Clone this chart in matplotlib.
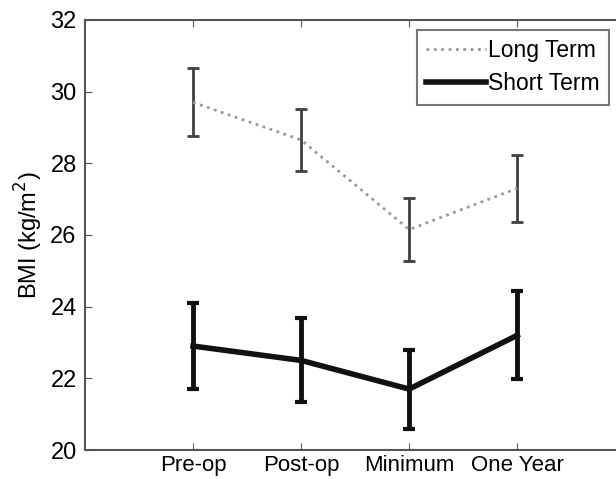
import numpy as np
import matplotlib.pyplot as plt
from matplotlib.lines import Line2D

plt.rcParams['font.family'] = ['Liberation Sans', 'DejaVu Sans']

# 数据
categories = ["Pre-op", "Post-op", "Minimum", "One Year"]
long_mean = [29.7, 28.65, 26.15, 27.3]
long_err = [0.95, 0.87, 0.88, 0.93]
short_mean = [22.9, 22.5, 21.7, 23.2]
short_err = [1.2, 1.17, 1.1, 1.23]

x = np.arange(1, len(categories) + 1)

fig = plt.figure(figsize=(6.16, 4.79), dpi=100)
ax = fig.add_axes([0.138, 0.0605, 0.877, 0.898])

# 长期：灰色点线 + 细误差棒
ax.errorbar(x, long_mean, yerr=long_err, color='#9a9a9a', linestyle=':', linewidth=2,
            ecolor='#404040', elinewidth=2, capsize=4, capthick=2)
# 短期：黑色粗实线
ax.errorbar(x, short_mean, yerr=short_err, color='#111111', linestyle='-', linewidth=4,
            ecolor='#111111', elinewidth=3.5, capsize=4, capthick=3)

ax.set_xlim(0, 5)
ax.set_ylim(20, 32)
ax.set_xticks(x)
ax.set_xticklabels(categories, fontsize=16)
ax.set_yticks(np.arange(20, 33, 2))
ax.tick_params(axis='y', labelsize=17, pad=6)
ax.tick_params(direction='in', length=5, top=True, right=False, color='#555555')
ax.set_ylabel('BMI (kg/m$^2$)', fontsize=17, labelpad=4)

for s in ax.spines.values():
    s.set_color('#555555')
    s.set_linewidth(1.5)
ax.spines['right'].set_visible(False)

handles = [Line2D([], [], color='#9a9a9a', linestyle=':', linewidth=2),
           Line2D([], [], color='#111111', linestyle='-', linewidth=4)]
leg = ax.legend(handles, ['Long Term', 'Short Term'], loc='upper left',
                bbox_to_anchor=(417 / 616, 1 - 30 / 479),
                bbox_transform=fig.transFigure, fontsize=16.5, frameon=True,
                fancybox=False, handlelength=2.6, handletextpad=0.1,
                borderpad=0.4, labelspacing=0.45, borderaxespad=0)
leg.get_frame().set_edgecolor('#555555')
leg.get_frame().set_linewidth(1.5)

fig.savefig('out.png', dpi=100)
